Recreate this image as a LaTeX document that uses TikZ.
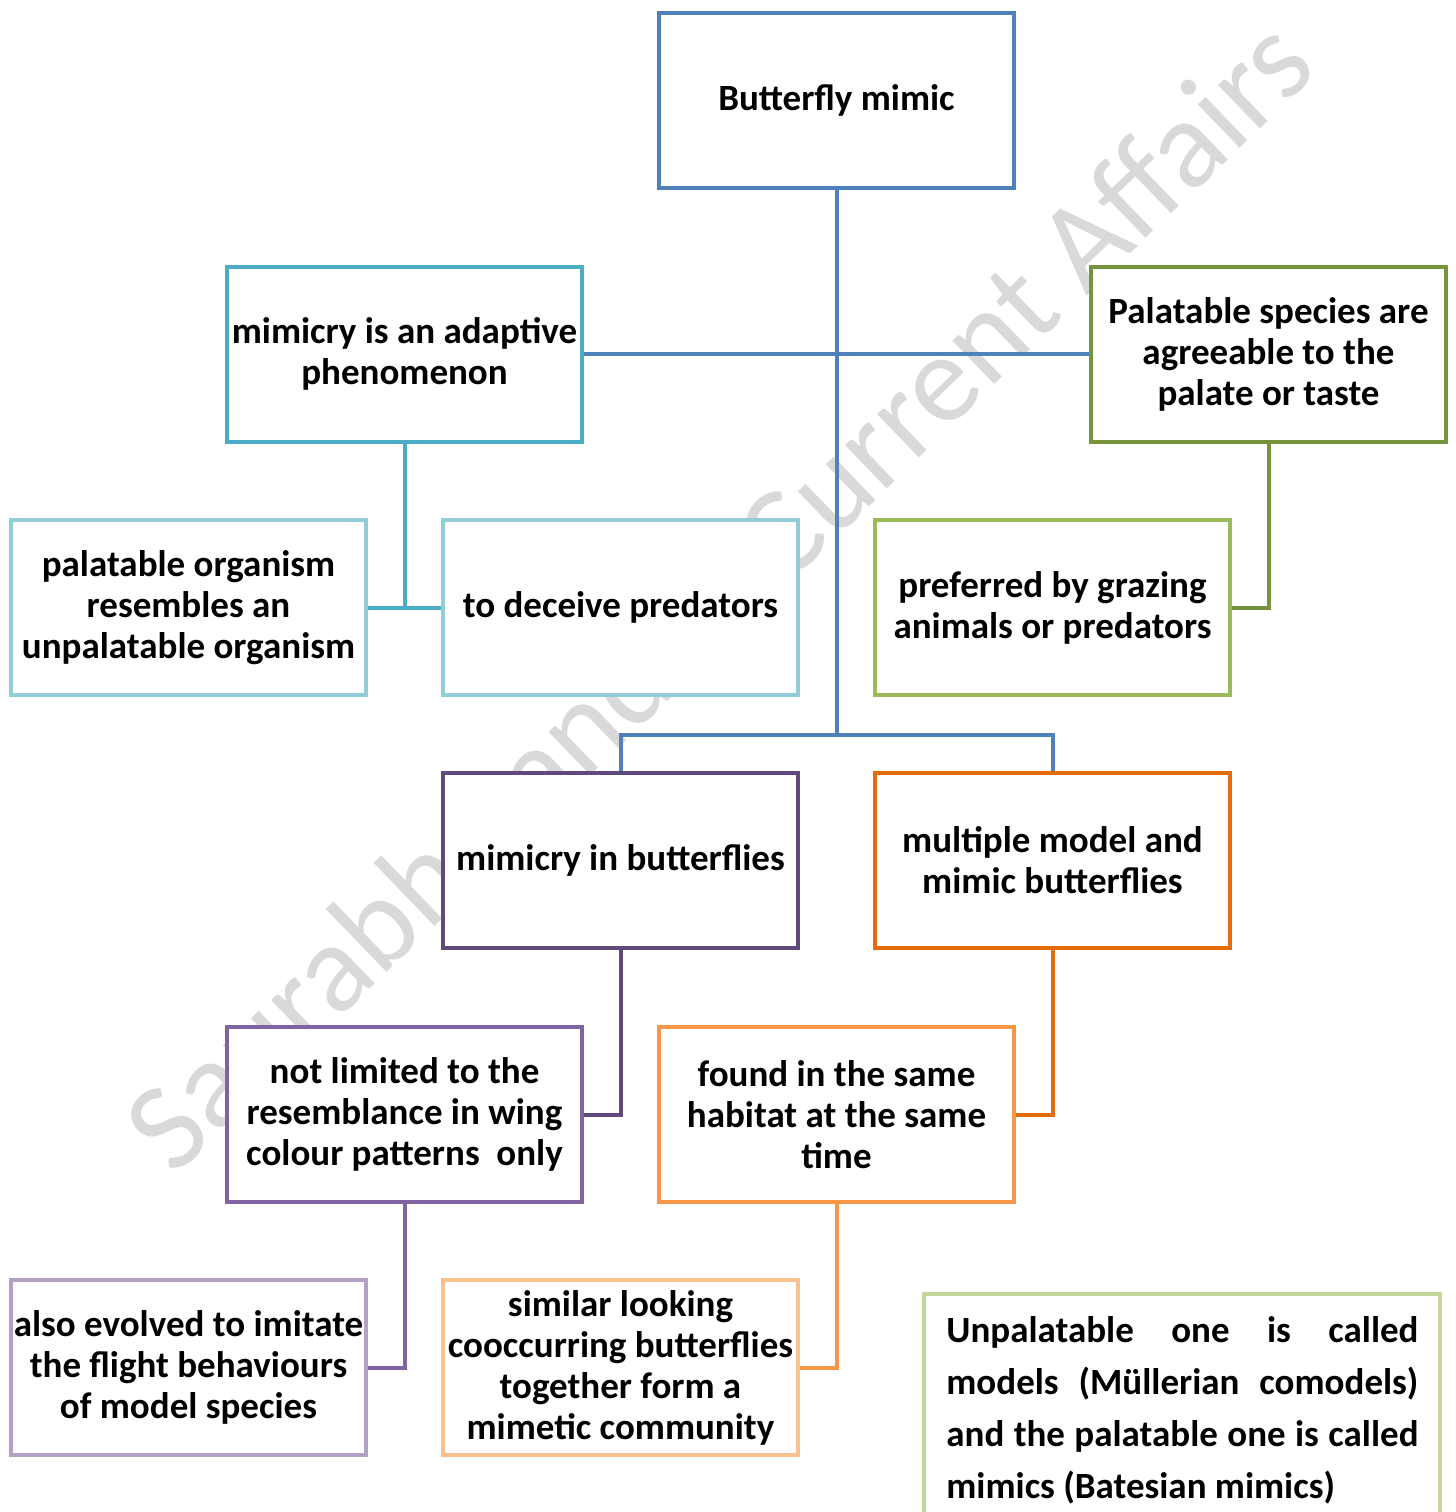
\documentclass[tikz,border=0pt]{standalone}
\usepackage{fontspec}
\setmainfont{Carlito}
\definecolor{cBlue}{HTML}{4F81BD}
\definecolor{cTeal}{HTML}{4BACC6}
\definecolor{cOlive}{HTML}{77933C}
\definecolor{cLTeal}{HTML}{92CDDC}
\definecolor{cGreen}{HTML}{9BBB59}
\definecolor{cDPurple}{HTML}{604A7B}
\definecolor{cOrange}{HTML}{E36C09}
\definecolor{cPurple}{HTML}{8064A2}
\definecolor{cLOrange}{HTML}{F79646}
\definecolor{cLPurple}{HTML}{B2A1C7}
\definecolor{cPeach}{HTML}{FAC090}
\definecolor{cLGreen}{HTML}{C3D69B}
\definecolor{cMark}{HTML}{D9D9D9}
\begin{document}
\begin{tikzpicture}[x=0.5pt,y=-0.5pt,
  box/.style={draw, line width=2pt, fill=white, minimum width=177.5pt, minimum height=87.5pt,
    align=center, inner sep=0pt, font=\bfseries\fontsize{18.5}{20.5}\selectfont},
  conn/.style={line width=2pt},
  wmark/.style={text=cMark, font=\fontsize{63}{70}\selectfont, rotate=44}]
\useasboundingbox (0,0) rectangle (1456,1512);
\fill[white] (0,0) rectangle (1456,1512);
% watermark
\node[wmark] (wm) at (724,600) {Saurabh Pandey Current Affairs};
% boxes
\node[box, draw=cBlue] (b1) at (836.5,100.5) {Butterfly mimic};
\node[box, draw=cTeal] (b2) at (404.5,354) {mimicry is an adaptive\\phenomenon};
\node[box, draw=cOlive] (b3) at (1268.5,354) {Palatable species are\\agreeable to the\\palate or taste};
\node[box, draw=cLTeal] (b4) at (188.5,607.5) {palatable organism\\resembles an\\unpalatable organism};
\node[box, draw=cLTeal] (b5) at (620.5,607.5) {to deceive predators};
\node[box, draw=cGreen] (b6) at (1052.5,607.5) {preferred by grazing\\animals or predators};
\node[box, draw=cDPurple] (b7) at (620.5,860.5) {mimicry in butterflies};
\node[box, draw=cOrange] (b8) at (1052.5,860.5) {multiple model and\\mimic butterflies};
\node[box, draw=cPurple] (b9) at (404.5,1114.5) {not limited to the\\resemblance in wing\\colour patterns\ \ only};
\node[box, draw=cLOrange] (b10) at (836.5,1114.5) {found in the same\\habitat at the same\\time};
\node[box, draw=cLPurple] (b11) at (188.5,1367.5) {also evolved to imitate\\the flight behaviours\\of model species};
\node[box, draw=cPeach] (b12) at (620.5,1367.5) {similar looking\\cooccurring butterflies\\together form a\\mimetic community};
% note box
\draw[cLGreen, line width=2pt, fill=white] (924,1294) rectangle (1440,1540);
\node[anchor=north west, inner sep=0pt, align=left,
  font=\bfseries\fontsize{18.5}{26}\selectfont] (note) at (946,1316)
  {\makebox[236pt][s]{Unpalatable one is called}\\
   \makebox[236pt][s]{models (Müllerian comodels)}\\
   \makebox[236pt][s]{and the palatable one is called}\\
   mimics (Batesian mimics)};
% connectors
\coordinate (j) at (836.5,735);
\draw[conn, cBlue] (b1.south) -- (j);
\draw[conn, cBlue] (b2.east) -- (b3.west);
\draw[conn, cBlue] (b7.north) |- (j) -| (b8.north);
\draw[conn, cTeal] (b2.south) -- (b2.south |- b4.east);
\draw[conn, cTeal] (b4.east) -- (b5.west);
\draw[conn, cOlive] (b3.south) |- (b6.east);
\draw[conn, cDPurple] (b7.south) |- (b9.east);
\draw[conn, cOrange] (b8.south) |- (b10.east);
\draw[conn, cPurple] (b9.south) |- (b11.east);
\draw[conn, cLOrange] (b10.south) |- (b12.east);
\end{tikzpicture}
\end{document}
